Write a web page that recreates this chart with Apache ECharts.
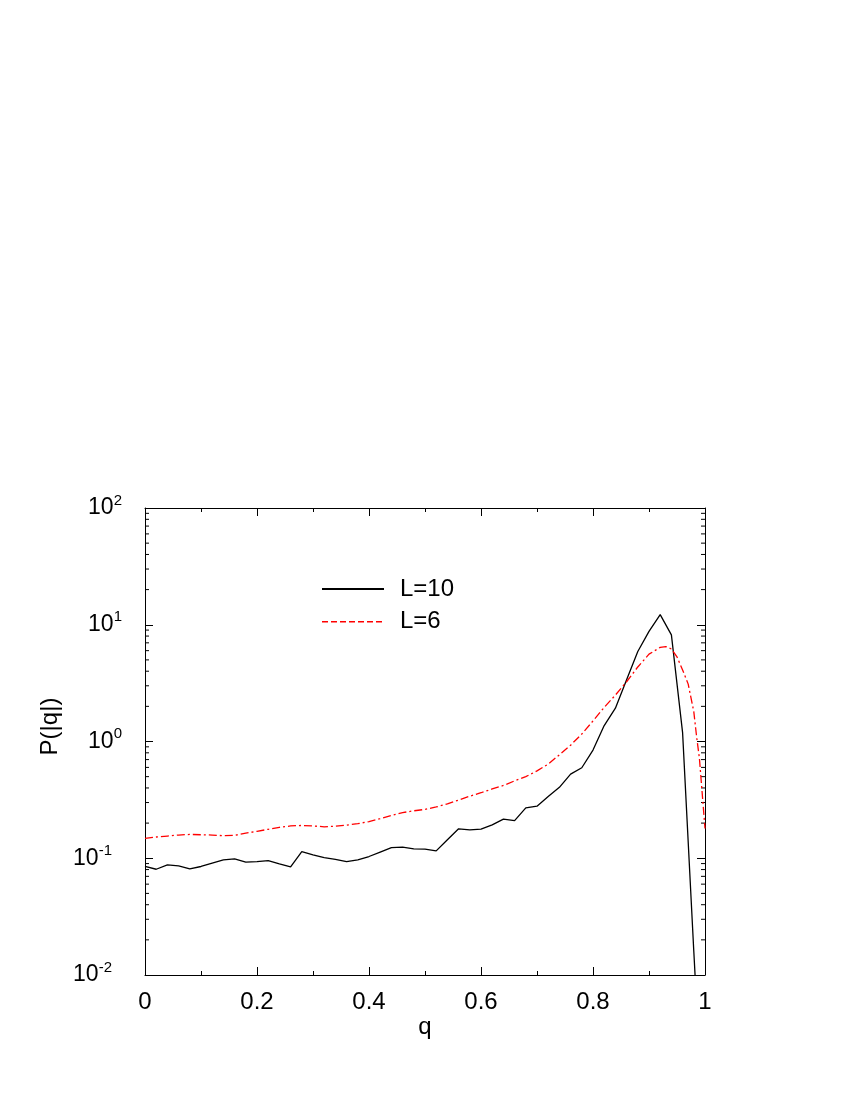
<!DOCTYPE html>
<html>
<head>
<meta charset="utf-8">
<title>P(|q|)</title>
<script src="https://cdn.jsdelivr.net/npm/echarts@6/dist/echarts.min.js"></script>
<style>
  html, body { margin: 0; padding: 0; background: #fff; }
  #chart { width: 850px; height: 1100px; }
</style>
</head>
<body>
<div id="chart"></div>
<script>
// L=10 curve (solid black)
const qL10 = [0, 0.02, 0.04, 0.06, 0.08, 0.10, 0.12, 0.14, 0.16, 0.18,
  0.20, 0.22, 0.24, 0.26, 0.28, 0.30, 0.32, 0.34, 0.36, 0.38,
  0.40, 0.42, 0.44, 0.46, 0.48, 0.50, 0.52, 0.54, 0.56, 0.58,
  0.60, 0.62, 0.64, 0.66, 0.68, 0.70, 0.72, 0.74, 0.76, 0.78,
  0.80, 0.82, 0.84, 0.86, 0.88, 0.90, 0.92, 0.94, 0.96, 0.98, 1.00];
const pL10 = [0.085, 0.0805, 0.0877, 0.086, 0.081, 0.085, 0.091, 0.0969, 0.0988, 0.0925,
  0.0937, 0.0955, 0.0895, 0.0843, 0.114, 0.107, 0.1014, 0.098, 0.0937, 0.097,
  0.1035, 0.113, 0.1235, 0.1245, 0.1205, 0.1197, 0.1157, 0.144, 0.1787, 0.175,
  0.1774, 0.193, 0.216, 0.210, 0.270, 0.279, 0.338, 0.405, 0.526, 0.596,
  0.845, 1.37, 1.93, 3.38, 5.9, 8.77, 12.2, 8.2, 1.19, 0.016, 0.00025];

// L=6 curve (dashed red)
const qL6 = [0, 0.02, 0.04, 0.06, 0.08, 0.10, 0.12, 0.14, 0.16, 0.18,
  0.20, 0.22, 0.24, 0.26, 0.28, 0.30, 0.32, 0.34, 0.36, 0.38,
  0.40, 0.42, 0.44, 0.46, 0.48, 0.50, 0.52, 0.54, 0.56, 0.58,
  0.60, 0.62, 0.64, 0.66, 0.68, 0.70, 0.72, 0.74, 0.76, 0.78,
  0.80, 0.82, 0.84, 0.86, 0.88, 0.90, 0.92, 0.93, 0.94, 0.95,
  0.96, 0.97, 0.98, 0.985, 0.99, 0.995, 1.00];
const pL6 = [0.148, 0.152, 0.155, 0.158, 0.160, 0.159, 0.158, 0.156, 0.157, 0.164,
  0.170, 0.177, 0.184, 0.189, 0.191, 0.189, 0.186, 0.188, 0.192, 0.198,
  0.206, 0.218, 0.232, 0.246, 0.255, 0.262, 0.275, 0.292, 0.315, 0.340,
  0.364, 0.392, 0.42, 0.46, 0.50, 0.56, 0.64, 0.77, 0.93, 1.16,
  1.50, 1.96, 2.50, 3.25, 4.35, 5.6, 6.4, 6.5, 6.2, 5.3,
  4.1, 3.1, 1.8, 1.1, 0.72, 0.36, 0.18];

// minor tick values of the log axis (2..9 in each decade)
const minorLogTicks = [0.02, 0.03, 0.04, 0.05, 0.06, 0.07, 0.08, 0.09,
  0.2, 0.3, 0.4, 0.5, 0.6, 0.7, 0.8, 0.9,
  2, 3, 4, 5, 6, 7, 8, 9,
  20, 30, 40, 50, 60, 70, 80, 90];

const FONT = 'Liberation Sans, Arial, sans-serif';
const FS = 24;

const chart = echarts.init(document.getElementById('chart'));

const toPairs = (xs, ys) => xs.map((x, i) => [x, ys[i]]);

// 10^n labels with a raised exponent
const logLabel = function (value) {
  const e = Math.round(Math.log10(value));
  if (e < 0) return '{b|10}{n|-' + (-e) + '}';
  return '{b|10}{s|' + e + '}';
};

const xAxisBase = {
  type: 'value',
  min: 0,
  max: 1,
  interval: 0.2,
  axisLine: { show: true, onZero: false, lineStyle: { color: '#000', width: 1 } },
  axisTick: { show: true, inside: true, length: 8, lineStyle: { color: '#000' } },
  minorTick: { show: true, splitNumber: 2, length: 4, lineStyle: { color: '#000' } },
  splitLine: { show: false },
  minorSplitLine: { show: false }
};

const yAxisBase = {
  type: 'log',
  logBase: 10,
  min: 0.01,
  max: 100,
  axisLine: { show: true, onZero: false, lineStyle: { color: '#000', width: 1 } },
  axisTick: { show: true, inside: true, length: 8, lineStyle: { color: '#000' } },
  splitLine: { show: false }
};

const option = {
  animation: false,
  backgroundColor: '#fff',
  grid: { left: 145, right: 145, top: 508, bottom: 125 },
  legend: {
    orient: 'vertical',
    left: 321,
    top: 577,
    padding: 0,
    itemWidth: 62,
    itemHeight: 24,
    itemGap: 8.7,
    selectedMode: false,
    itemStyle: { opacity: 0 },
    textStyle: { fontSize: FS, fontFamily: FONT, color: '#000', lineHeight: 24, padding: [0, 0, 0, 11] },
    data: [
      { name: 'L=10' },
      { name: 'L=6', lineStyle: { type: 'dashed', width: 1.5 } }
    ]
  },
  xAxis: [
    Object.assign({}, xAxisBase, {
      position: 'bottom',
      name: 'q',
      nameLocation: 'middle',
      nameGap: 37,
      nameTextStyle: { fontSize: FS, fontFamily: FONT, color: '#000' },
      axisLabel: { show: true, margin: 15, fontSize: FS, fontFamily: FONT, color: '#000' }
    }),
    Object.assign({}, xAxisBase, {
      position: 'top',
      axisLabel: { show: false }
    })
  ],
  yAxis: [
    Object.assign({}, yAxisBase, {
      position: 'left',
      name: 'P(|q|)',
      nameLocation: 'middle',
      nameRotate: 90,
      nameGap: 72,
      nameTextStyle: { fontSize: FS, fontFamily: FONT, color: '#000', padding: [0, 0, 0, 30] },
      axisLabel: {
        show: true,
        margin: 23,
        formatter: logLabel,
        rich: {
          b: { fontSize: 23, fontFamily: FONT, color: '#000', lineHeight: 30 },
          s: { fontSize: 15, fontFamily: FONT, color: '#000', lineHeight: 15, verticalAlign: 'top' },
          n: { fontSize: 15, fontFamily: FONT, color: '#000', lineHeight: 15, verticalAlign: 'top', padding: [0, 10, 0, 0] }
        }
      }
    }),
    Object.assign({}, yAxisBase, {
      position: 'right',
      axisLabel: { show: false }
    })
  ],
  series: [
    {
      name: 'L=10',
      type: 'line',
      xAxisIndex: 0,
      yAxisIndex: 0,
      data: toPairs(qL10, pL10),
      symbol: 'none',
      clip: true,
      lineStyle: { color: '#000', width: 1.3, type: 'solid' },
      itemStyle: { color: '#000' }
    },
    {
      name: 'L=6',
      type: 'line',
      xAxisIndex: 0,
      yAxisIndex: 0,
      data: toPairs(qL6, pL6),
      symbol: 'none',
      clip: true,
      lineStyle: { color: '#ff0000', width: 1.3, type: [8, 3, 2, 3] },
      itemStyle: { color: '#ff0000' }
    },
    {
      // minor ticks of the log axes, placed through the y scale
      name: 'minor',
      type: 'custom',
      silent: true,
      clip: false,
      xAxisIndex: 0,
      yAxisIndex: 0,
      data: minorLogTicks.map(v => [0, v]),
      renderItem: function (params, api) {
        const y = api.coord([0, api.value(1)])[1];
        const cs = params.coordSys;
        const st = { stroke: '#000', lineWidth: 1 };
        return {
          type: 'group',
          children: [
            { type: 'line', shape: { x1: cs.x, y1: y, x2: cs.x + 4, y2: y }, style: st },
            { type: 'line', shape: { x1: cs.x + cs.width - 4, y1: y, x2: cs.x + cs.width, y2: y }, style: st }
          ]
        };
      }
    }
  ]
};

chart.setOption(option);
</script>
</body>
</html>
